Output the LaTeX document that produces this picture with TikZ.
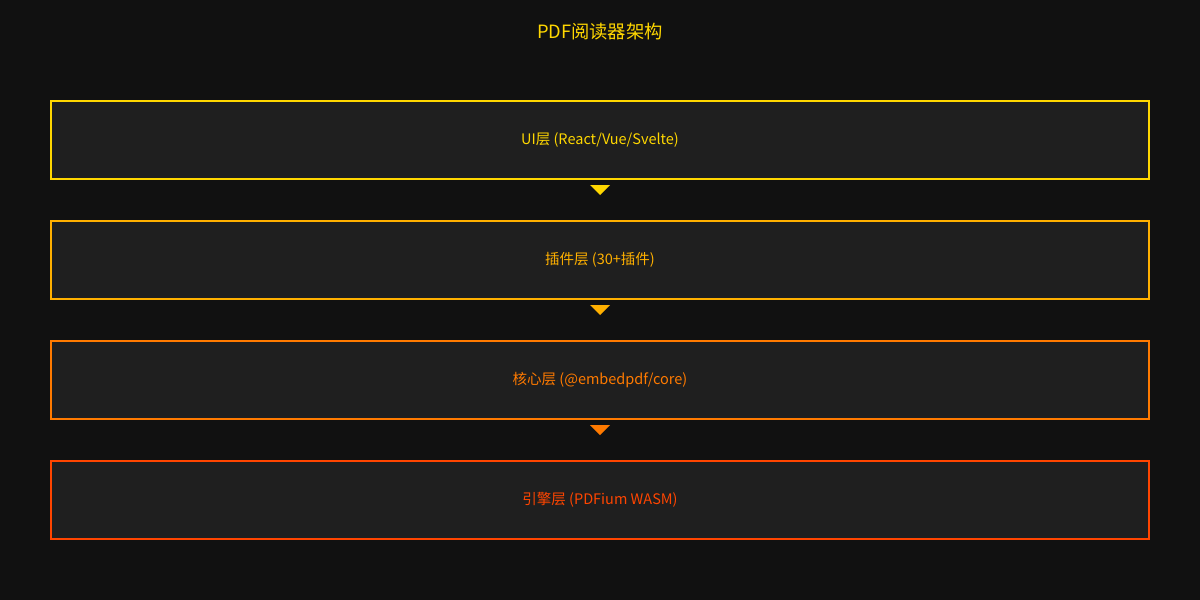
\documentclass[tikz,border=0pt]{standalone}
\usepackage{fontspec}
\setmainfont{Noto Sans CJK SC}
\definecolor{bg}{HTML}{111111}
\definecolor{boxfill}{HTML}{1F1F1F}
\definecolor{cA}{HTML}{FFD700}
\definecolor{cB}{HTML}{FFB000}
\definecolor{cC}{HTML}{FF7A00}
\definecolor{cD}{HTML}{FF4500}
\begin{document}
\begin{tikzpicture}[x=1pt,y=-1pt,
  layer/.style={draw=#1,text=#1,fill=boxfill,line width=2pt,minimum width=1098pt,minimum height=78pt,inner sep=0pt,font=\fontsize{14.5pt}{17pt}\selectfont},
  tri/.style={fill=#1,draw=none}]
\useasboundingbox (0,0) rectangle (1200,600);
\fill[bg] (0,0) rectangle (1200,600);
\node[text=cA,font=\fontsize{18.3pt}{22pt}\selectfont] (title) at (600,32) {PDF阅读器架构};
\node[layer=cA] (ui) at (600,140) {UI层 (React/Vue/Svelte)};
\node[layer=cB] (plugin) at (600,260) {插件层 (30+插件)};
\node[layer=cC] (core) at (600,380) {核心层 (@embedpdf/core)};
\node[layer=cD] (engine) at (600,500) {引擎层 (PDFium WASM)};
\coordinate (t1) at (600,185);
\coordinate (t2) at (600,305);
\coordinate (t3) at (600,425);
\fill[cA] ([xshift=-10pt]t1) -- ([xshift=10pt]t1) -- ([yshift=-10pt]t1) -- cycle;
\fill[cB] ([xshift=-10pt]t2) -- ([xshift=10pt]t2) -- ([yshift=-10pt]t2) -- cycle;
\fill[cC] ([xshift=-10pt]t3) -- ([xshift=10pt]t3) -- ([yshift=-10pt]t3) -- cycle;
\end{tikzpicture}
\end{document}
